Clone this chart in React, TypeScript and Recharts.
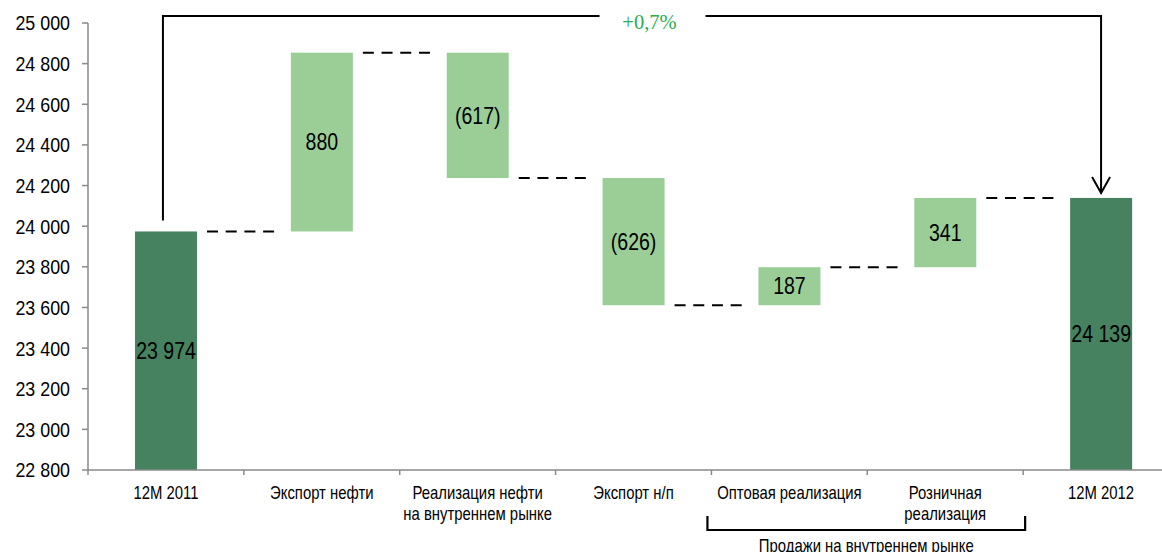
import React from 'react';
import { BarChart, Bar, XAxis, YAxis, LabelList, ReferenceLine } from 'recharts';

// ---------- data ----------
const categories = [
  '12M 2011',
  'Экспорт нефти',
  'Реализация нефти\nна внутреннем рынке',
  'Экспорт н/п',
  'Оптовая реализация',
  'Розничная\nреализация',
  '12M 2012',
];
const kinds = ['total', 'delta', 'delta', 'delta', 'delta', 'delta', 'total'];
const values = [23974, 880, -617, -626, 187, 341, 24139];
const valueLabels = ['23 974', '880', '(617)', '(626)', '187', '341', '24 139'];
const yTicks = [22800, 23000, 23200, 23400, 23600, 23800, 24000, 24200, 24400, 24600, 24800, 25000];
const growthLabel = '+0,7%';
const groupLabel = 'Продажи на внутреннем рынке';
const groupFrom = 'Оптовая реализация';
const groupTo = 'Розничная\nреализация';

const Y_MIN = yTicks[0];
const Y_MAX = yTicks[yTicks.length - 1];

// build waterfall table
let running = 0;
const data = categories.map((name, i) => {
  const v = values[i];
  let low: number;
  let high: number;
  if (kinds[i] === 'total') {
    low = Y_MIN;
    high = v;
    running = v;
  } else {
    low = Math.min(running, running + v);
    high = Math.max(running, running + v);
    running += v;
  }
  return { name, range: [low, high], label: valueLabels[i], kind: kinds[i], dir: v < 0 ? 'down' : 'up' };
});

// ---------- layout / style ----------
const CHART_W = 1190;
const CHART_H = 552;
const MARGIN = { top: 23, right: 11, bottom: 0, left: 0 };
const Y_AXIS_W = 88;
const X_AXIS_H = CHART_H - 470;
const PLOT_W = CHART_W - MARGIN.left - MARGIN.right - Y_AXIS_W;
const BAND = PLOT_W / categories.length;
const BAR_SIZE = 62;

const SANS = "'Liberation Sans', Arial, sans-serif";
const SERIF = "'Liberation Serif', 'Times New Roman', serif";
const NARROW_K = 0.85; // horizontal squeeze to imitate a narrow face
const AXIS_GRAY = '#8a8a8a';
const DARK = '#46825f';
const LIGHT = '#9bcd97';
const GREEN_TEXT = '#2aae50';

const NarrowText = ({ x, y, size, anchor = 'middle', dy = 0, children }: any) => (
  <g transform={`translate(${x},${y}) scale(${NARROW_K},1)`}>
    <text x={0} y={0} dy={dy} textAnchor={anchor} fontFamily={SANS} fontSize={size} fill="#000">
      {children}
    </text>
  </g>
);

const WaterfallBar = (props: any) => {
  const { x, y, width, height, index, payload } = props;
  const top = Math.min(y, y + height);
  const h = Math.abs(height);
  const fill = payload.kind === 'total' ? DARK : LIGHT;
  const ly = payload.dir === 'down' ? top + h : top;
  const isLast = index === categories.length - 1;
  return (
    <g>
      <rect x={x} y={top} width={width} height={h} fill={fill} />
      {!isLast && (
        <line
          x1={x + width + 10}
          x2={x + BAND - 16}
          y1={ly}
          y2={ly}
          stroke="#000"
          strokeWidth={2}
          strokeDasharray="11 7.7"
        />
      )}
    </g>
  );
};

const BarValueLabel = (props: any) => {
  const { x, y, width, height, value } = props;
  const top = Math.min(y, y + height);
  const h = Math.abs(height);
  return <NarrowText x={x + width / 2} y={top + h / 2} size={23} dy="0.355em">{value}</NarrowText>;
};

const CategoryTick = (props: any) => {
  const { x, y, payload, index } = props;
  const lines = String(payload.value).split('\n');
  const isLast = index === categories.length - 1;
  return (
    <g>
      <line x1={x - BAND / 2} x2={x - BAND / 2} y1={y} y2={y + 5} stroke={AXIS_GRAY} strokeWidth={1.5} />
      {isLast && <line x1={x + BAND / 2} x2={x + BAND / 2} y1={y} y2={y + 5} stroke={AXIS_GRAY} strokeWidth={1.5} />}
      {lines.map((l, i) => (
        <NarrowText key={i} x={x} y={y + 29 + i * 21} size={17.5}>
          {l}
        </NarrowText>
      ))}
    </g>
  );
};

const ValueTick = (props: any) => {
  const { x, y, payload } = props;
  return (
    <NarrowText x={x} y={y} size={21} anchor="end" dy="0.355em">
      {fmt(payload.value)}
    </NarrowText>
  );
};

const GrowthBracket = (props: any) => {
  const { x1, y1, x2, y2 } = props;
  const top = MARGIN.top - 7;
  const lx = x1 - 3;
  const startY = y1 - 11;
  const endY = y2 - 5;
  const mid = (x1 + x2) / 2 + 19;
  const gapL = mid - 53;
  const gapR = mid + 53;
  return (
    <g>
      <path
        d={`M${lx},${startY} V${top} H${gapL} M${gapR},${top} H${x2} V${endY} M${x2 - 9},${endY - 16} L${x2},${endY} L${x2 + 9},${endY - 16}`}
        fill="none"
        stroke="#000"
        strokeWidth={2}
      />
      <text x={mid - 3} y={top + 13} textAnchor="middle" fontFamily={SERIF} fontSize={20.5} fill={GREEN_TEXT}>
        {growthLabel}
      </text>
    </g>
  );
};

const GroupBracket = (props: any) => {
  const { x1, y1, x2 } = props;
  const left = x1 - BAND / 2 - 4;
  const right = x2 + BAND / 2 + 2;
  return (
    <g>
      <path
        d={`M${left},${y1 + 46} V${y1 + 60} H${right} V${y1 + 46}`}
        fill="none"
        stroke="#000"
        strokeWidth={2.2}
      />
      <NarrowText x={(left + right) / 2} y={y1 + 82} size={17.5}>
        {groupLabel}
      </NarrowText>
    </g>
  );
};

function fmt(n: number) {
  return `${Math.floor(n / 1000)} ${String(n % 1000).padStart(3, '0')}`;
}

export default function App() {
  return (
    <div
      style={{
        position: 'fixed',
        left: 0,
        top: 0,
        width: 1162,
        height: 552,
        overflow: 'hidden',
        background: '#fff',
      }}
    >
      <BarChart width={CHART_W} height={CHART_H} data={data} margin={MARGIN} barSize={BAR_SIZE}>
        <XAxis
          dataKey="name"
          interval={0}
          height={X_AXIS_H}
          tickLine={false}
          tickSize={0}
          tickMargin={0}
          axisLine={{ stroke: AXIS_GRAY, strokeWidth: 1.5 }}
          tick={<CategoryTick />}
        />
        <YAxis
          width={Y_AXIS_W}
          domain={[Y_MIN, Y_MAX]}
          ticks={yTicks}
          interval={0}
          tickSize={6}
          tickMargin={12}
          tickLine={{ stroke: AXIS_GRAY, strokeWidth: 1.5 }}
          axisLine={{ stroke: AXIS_GRAY, strokeWidth: 1.5 }}
          tick={<ValueTick />}
        />
        <Bar dataKey="range" isAnimationActive={false} shape={<WaterfallBar />}>
          <LabelList dataKey="label" content={<BarValueLabel />} />
        </Bar>
        <ReferenceLine
          ifOverflow="visible"
          segment={[
            { x: categories[0], y: values[0] },
            { x: categories[categories.length - 1], y: values[values.length - 1] },
          ]}
          shape={<GrowthBracket />}
        />
        <ReferenceLine
          ifOverflow="visible"
          segment={[
            { x: groupFrom, y: Y_MIN },
            { x: groupTo, y: Y_MIN },
          ]}
          shape={<GroupBracket />}
        />
      </BarChart>
    </div>
  );
}
